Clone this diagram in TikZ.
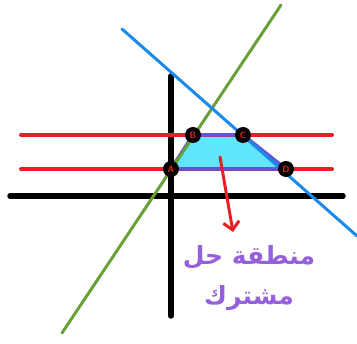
\documentclass[tikz,border=0pt]{standalone}
\usepackage{fontspec}
\usetikzlibrary{arrows.meta}
\newfontfamily\arabicfont[Script=Arabic]{DejaVu Sans}
\TeXXeTstate=1
\definecolor{penred}{RGB}{235,30,40}
\definecolor{penblue}{RGB}{25,140,235}
\definecolor{pengreen}{RGB}{105,160,55}
\definecolor{regfill}{RGB}{95,230,250}
\definecolor{regline}{RGB}{95,85,215}
\definecolor{penpurple}{RGB}{150,95,220}
\tikzset{
  pt/.style={circle, fill=black, inner sep=0pt, minimum size=16pt, text=penred, font=\sffamily\small\bfseries},
}
\begin{document}
\begin{tikzpicture}[x=1pt,y=-1pt, line cap=round]
	\useasboundingbox (0,0) rectangle (357,344);
	% end points of the lines
	\coordinate (yTop) at (171,76);
	\coordinate (yBot) at (171,316);
	\coordinate (xL) at (10,196);
	\coordinate (xR) at (343,196);
	\coordinate (r1L) at (21,135);
	\coordinate (r1R) at (332,135);
	\coordinate (r2L) at (21,169);
	\coordinate (r2R) at (332,169);
	\coordinate (gBot) at (62,333);
	\coordinate (gTop) at (281,5);
	\coordinate (bTop) at (122,29);
	\coordinate (bBot) at (357,236);
	
	% axes
	\draw[line width=5.5pt] (yTop) -- (yBot);
	\draw[line width=5.5pt] (xL) -- (xR);
	
	% corner points
	\coordinate (A) at (171,169);
	\coordinate (B) at (193,135);
	\coordinate (C) at (243,135);
	\coordinate (D) at (286,169);
	
	% common region
	\fill[regfill] (A) -- (B) -- (C) -- (D) -- cycle;
	
	% bounds
	\draw[penred, line width=4pt] (r1L) -- (r1R);
	\draw[penred, line width=4pt] (r2L) -- (r2R);
	\draw[regline, line width=3.5pt, line join=round] (A) -- (B) -- (C) -- (D) -- cycle;
	\draw[pengreen, line width=3pt] (gBot) -- (gTop);
	\draw[penblue, line width=3pt] (bTop) -- (bBot);
	
	\node[pt] (nA) at (A) {A};
	\node[pt] (nB) at (B) {B};
	\node[pt] (nC) at (C) {C};
	\node[pt] (nD) at (D) {D};
	
	% label
	\node[penpurple, align=center, font=\arabicfont\bfseries\fontsize{25}{40}\selectfont] (lbl) at (249,278)
		{\beginR منطقة حل\endR\\\beginR مشترك\endR};
	\coordinate (arrS) at (220,157);
	\coordinate (arrE) at (233,232);
	\draw[penred, line width=3pt, -{Straight Barb[length=8pt, width=16pt]}] (arrS) -- (arrE);
\end{tikzpicture}
\end{document}
